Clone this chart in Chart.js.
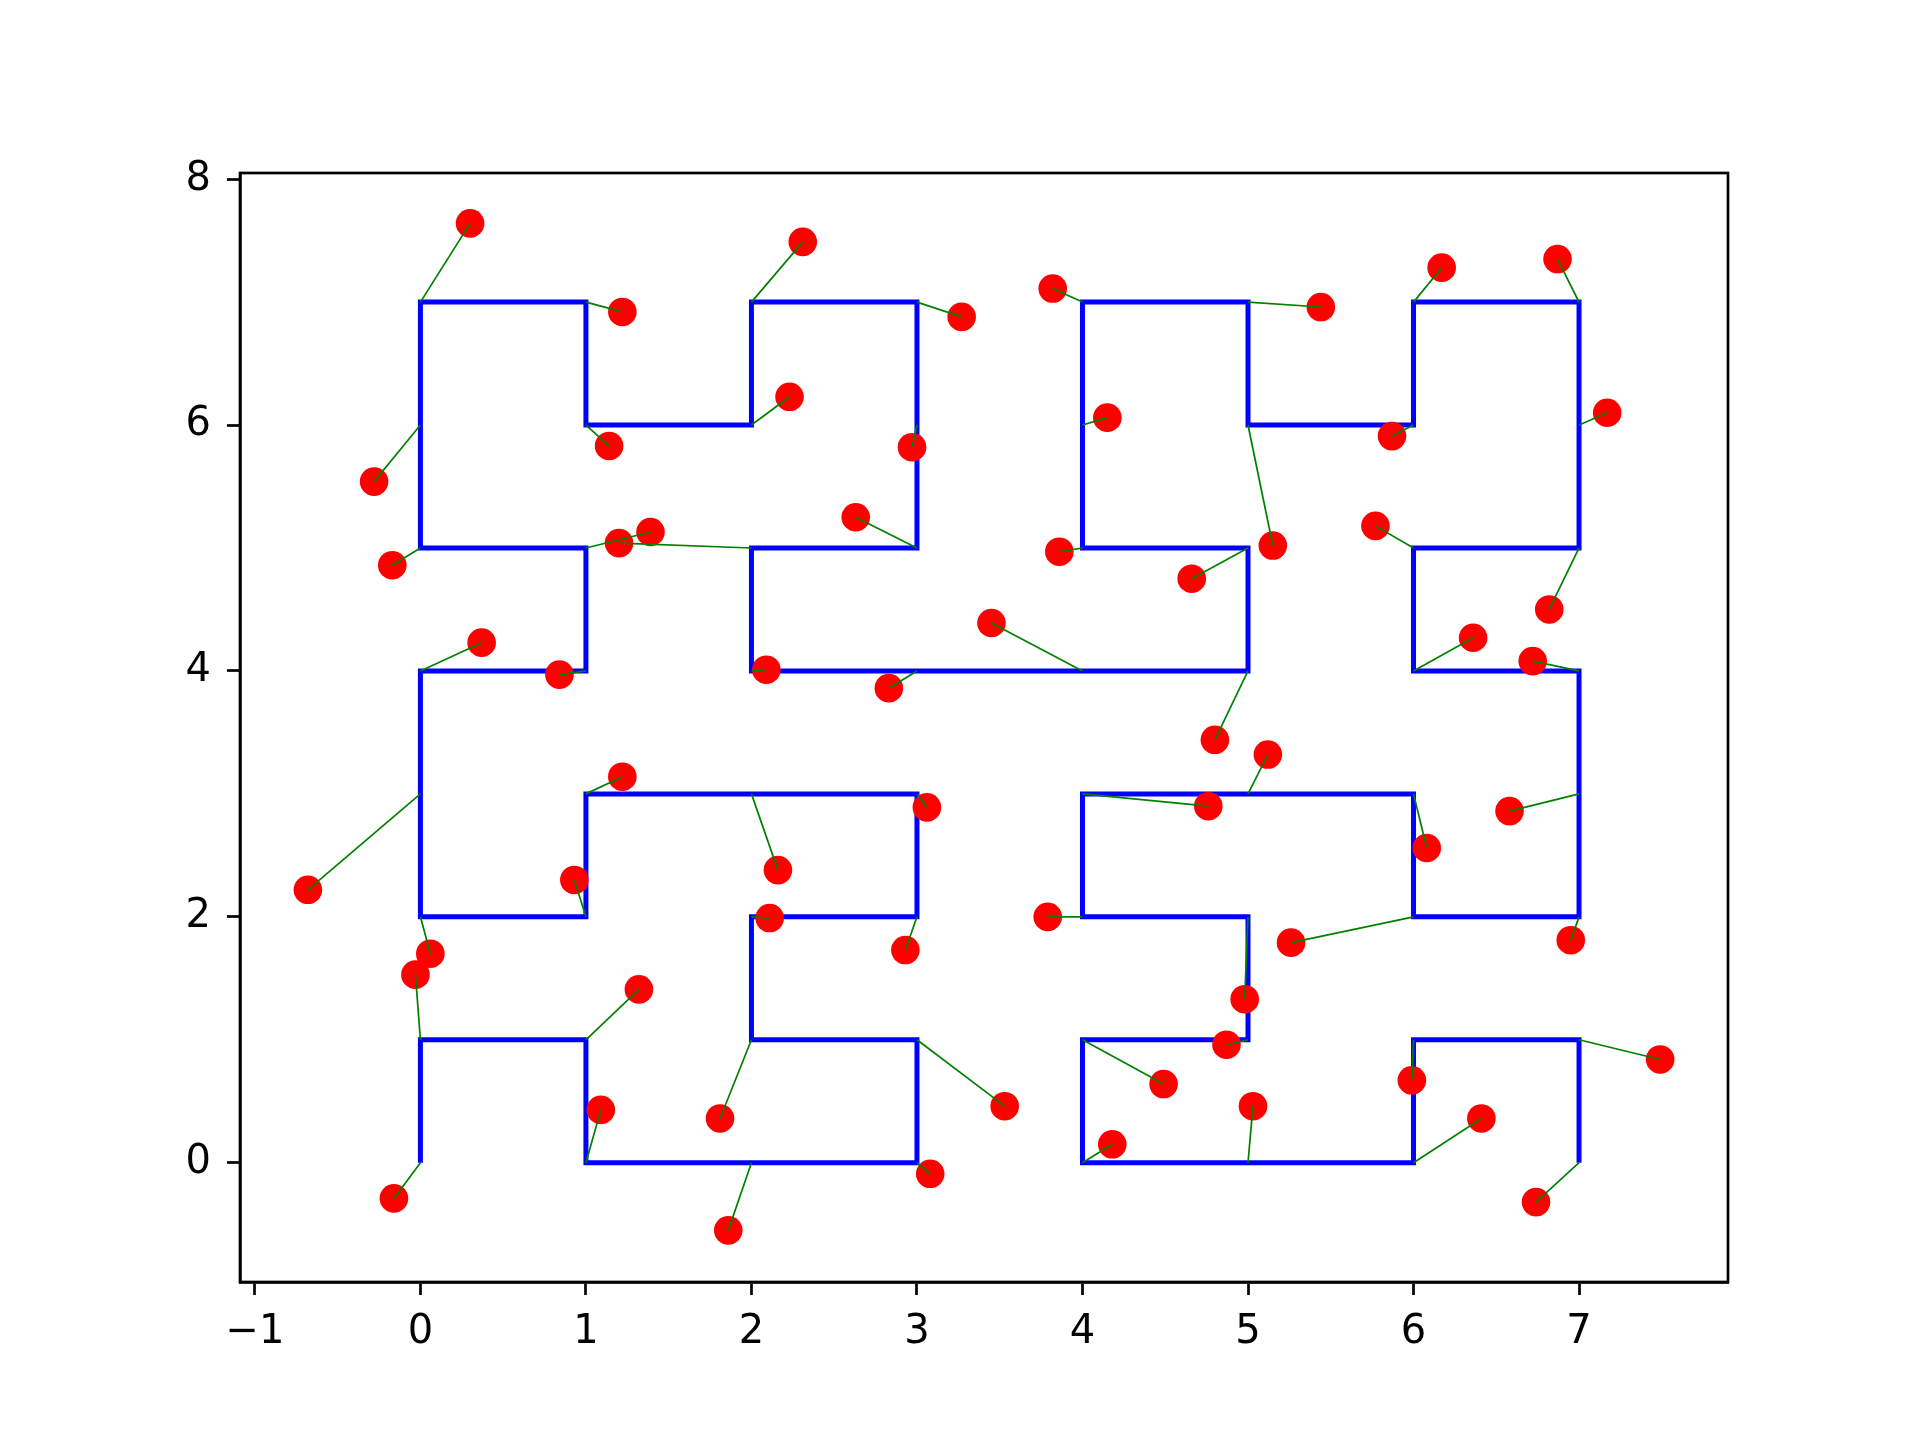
<!DOCTYPE html>
<html>
<head>
<meta charset="utf-8">
<script src="https://cdn.jsdelivr.net/npm/chart.js@4/dist/chart.umd.min.js"></script>
<style>
  body { margin: 0; background: #fff; }
</style>
</head>
<body>
<canvas id="hilbertChart" width="1920" height="1440"></canvas>
<script>
// Hilbert-Kurve (Ordnung 3), Punkte in Reihenfolge
const curveX = [0, 0, 1, 1, 2, 3, 3, 2, 2, 3, 3, 2, 1, 1, 0, 0,
                0, 1, 1, 0, 0, 0, 1, 1, 2, 2, 3, 3, 3, 2, 2, 3,
                4, 5, 5, 4, 4, 4, 5, 5, 6, 6, 7, 7, 7, 6, 6, 7,
                7, 7, 6, 6, 5, 4, 4, 5, 5, 4, 4, 5, 6, 6, 7, 7];
const curveY = [0, 1, 1, 0, 0, 0, 1, 1, 2, 2, 3, 3, 3, 2, 2, 3,
                4, 4, 5, 5, 6, 7, 7, 6, 6, 7, 7, 6, 5, 5, 4, 4,
                4, 4, 5, 5, 6, 7, 7, 6, 6, 7, 7, 6, 5, 5, 4, 4,
                3, 2, 2, 3, 3, 3, 2, 2, 1, 1, 0, 0, 0, 1, 1, 0];

// verrauschte Punkte (rot), gleiche Reihenfolge
const noisyX = [-0.16, -0.03, 1.32, 1.09, 1.86, 3.08, 3.53, 1.81, 2.11, 2.93, 3.06, 2.16, 1.22, 0.93, 0.06, -0.68,
                0.37, 0.84, 1.39, -0.17, -0.28, 0.30, 1.22, 1.14, 2.23, 2.31, 3.27, 2.97, 2.63, 1.20, 2.09, 2.83,
                3.45, 4.80, 4.66, 3.86, 4.15, 3.82, 5.44, 5.15, 5.87, 6.17, 6.87, 7.17, 6.82, 5.77, 6.36, 6.72,
                6.58, 6.95, 5.26, 6.08, 5.12, 4.76, 3.79, 4.98, 4.87, 4.49, 4.18, 5.03, 6.41, 5.99, 7.49, 6.74];
const noisyY = [-0.29, 1.53, 1.41, 0.43, -0.55, -0.09, 0.46, 0.36, 1.99, 1.73, 2.89, 2.38, 3.14, 2.30, 1.70, 2.22,
                4.23, 3.97, 5.13, 4.86, 5.54, 7.64, 6.92, 5.83, 6.23, 7.49, 6.88, 5.82, 5.25, 5.04, 4.01, 3.86,
                4.39, 3.44, 4.75, 4.97, 6.06, 7.11, 6.96, 5.02, 5.91, 7.28, 7.35, 6.10, 4.50, 5.18, 4.27, 4.08,
                2.86, 1.81, 1.79, 2.56, 3.32, 2.90, 2.00, 1.33, 0.96, 0.64, 0.15, 0.46, 0.36, 0.67, 0.84, -0.32];

const xTicks = [-1, 0, 1, 2, 3, 4, 5, 6, 7];
const yTicks = [0, 2, 4, 6, 8];

const toPoints = (xs, ys) => xs.map((x, i) => ({ x: x, y: ys[i] }));

// Datensätze: blaue Kurve, rote Punkte, grüne Verbindungslinien
const datasets = [];
datasets.push({
    type: 'line',
    data: toPoints(curveX, curveY),
    borderColor: '#0000ff',
    borderWidth: 5,
    pointRadius: 0,
    tension: 0,
    fill: false,
    order: 2
});
datasets.push({
    type: 'scatter',
    data: toPoints(noisyX, noisyY),
    backgroundColor: '#ff0000',
    borderWidth: 0,
    pointRadius: 14.3,
    order: 1
});
curveX.forEach((x, i) => {
    datasets.push({
        type: 'line',
        data: [{ x: x, y: curveY[i] }, { x: noisyX[i], y: noisyY[i] }],
        borderColor: '#008000',
        borderWidth: 1.7,
        pointRadius: 0,
        fill: false,
        order: 0
    });
});

// Rahmen um den Plotbereich (oben/rechts wie matplotlib)
const frame = {
    id: 'frame',
    afterDraw(chart) {
        const a = chart.chartArea;
        const ctx = chart.ctx;
        ctx.save();
        ctx.strokeStyle = '#000';
        ctx.lineWidth = 2.7;
        ctx.strokeRect(a.left, a.top, a.right - a.left, a.bottom - a.top);
        ctx.restore();
    }
};

const fmt = v => (v < 0 ? '\u2212' + Math.abs(v) : String(v));
const tickFont = { family: 'DejaVu Sans', size: 40 };

new Chart(document.getElementById('hilbertChart').getContext('2d'), {
    type: 'scatter',
    data: { datasets: datasets },
    options: {
        responsive: false,
        animation: false,
        devicePixelRatio: 1,
        layout: { padding: { left: 0, top: 173, right: 192, bottom: 0 } },
        plugins: {
            legend: { display: false },
            tooltip: { enabled: false }
        },
        scales: {
            x: {
                type: 'linear',
                min: -1.09,
                max: 7.90,
                afterBuildTicks: scale => { scale.ticks = xTicks.map(v => ({ value: v })); },
                afterFit: scale => { scale.height = 158; },
                grid: { drawOnChartArea: false, drawTicks: true, tickLength: 13, tickWidth: 2.7, tickColor: '#000' },
                border: { display: true, color: '#000', width: 2.7 },
                ticks: { color: '#000', font: tickFont, padding: 14, maxRotation: 0, callback: fmt }
            },
            y: {
                type: 'linear',
                min: -0.97,
                max: 8.05,
                afterBuildTicks: scale => { scale.ticks = yTicks.map(v => ({ value: v })); },
                afterFit: scale => { scale.width = 240; },
                grid: { drawOnChartArea: false, drawTicks: true, tickLength: 13, tickWidth: 2.7, tickColor: '#000' },
                border: { display: true, color: '#000', width: 2.7 },
                ticks: { color: '#000', font: tickFont, padding: 16, callback: fmt }
            }
        }
    },
    plugins: [frame]
});
</script>
</body>
</html>
